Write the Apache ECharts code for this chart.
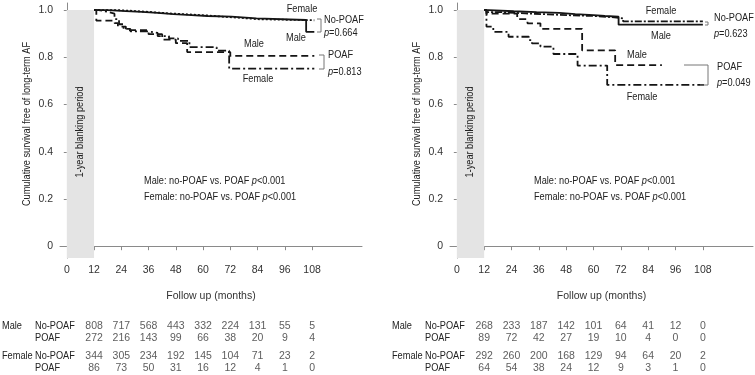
<!DOCTYPE html>
<html>
<head>
<meta charset="utf-8">
<script src="https://cdn.jsdelivr.net/npm/echarts@6/dist/echarts.min.js"></script>
<style>
  html, body { margin: 0; padding: 0; background: #fff; }
  #chart { width: 755px; height: 375px; }
</style>
</head>
<body>
<div id="chart"></div>
<script>
const FONT = '"Liberation Sans", Arial, sans-serif'
const NARROW = 0.8   // the original uses a narrow face; squeeze free text to match
const monthTicks = [0, 12, 24, 36, 48, 60, 72, 84, 96, 108]
const yTicks = [0, 0.2, 0.4, 0.6, 0.8, 1.0]
const riskMonths = [12, 24, 36, 48, 60, 72, 84, 96, 108]

// left panel, [month, survival]
const leftMaleNoPoaf = [[12, 1], [18, 0.996], [26, 0.992], [33, 0.988], [40, 0.983], [47, 0.979], [55, 0.975], [62, 0.972], [72.5, 0.965], [83.5, 0.958], [105.4, 0.908], [109, 0.908]]
const leftFemaleNoPoaf = [[12, 1], [22, 0.996], [30, 0.991], [38, 0.986], [45, 0.982], [53, 0.977], [62, 0.971], [70, 0.966], [78, 0.961], [85, 0.957], [109, 0.957]]
const leftMalePoaf = [[12, 1], [13, 0.955], [21, 0.945], [22.5, 0.93], [26, 0.915], [36, 0.898], [42, 0.875], [48, 0.86], [53, 0.822], [72, 0.806], [109, 0.806]]
const leftFemalePoaf = [[12, 1], [14, 0.993], [18, 0.985], [21, 0.962], [23, 0.94], [25, 0.92], [28, 0.91], [36, 0.903], [40, 0.89], [45, 0.88], [49, 0.87], [54, 0.843], [66, 0.828], [71.5, 0.752], [109, 0.752]]

// right panel
const rightMaleNoPoaf = [[12, 1], [14, 0.995], [25, 0.991], [35, 0.988], [45, 0.983], [52, 0.979], [60, 0.975], [65, 0.972], [71, 0.938], [108, 0.938]]
const rightFemaleNoPoaf = [[12, 1], [13, 0.991], [20, 0.986], [30, 0.982], [40, 0.978], [50, 0.975], [60, 0.97], [68, 0.965], [73, 0.952], [108, 0.952]]
const rightMalePoaf = [[12, 1], [13, 0.985], [26.5, 0.962], [31, 0.944], [36.7, 0.92], [55, 0.829], [69.5, 0.767], [90, 0.767]]
const rightFemalePoaf = [[12, 1], [13, 0.93], [16, 0.908], [22.7, 0.887], [31.6, 0.873], [33, 0.859], [36.7, 0.845], [42.4, 0.814], [53, 0.765], [66, 0.683], [108.5, 0.683]]

// numbers at risk
const leftMaleNoPoafRisk = [808, 717, 568, 443, 332, 224, 131, 55, 5]
const leftMalePoafRisk = [272, 216, 143, 99, 66, 38, 20, 9, 4]
const leftFemaleNoPoafRisk = [344, 305, 234, 192, 145, 104, 71, 23, 2]
const leftFemalePoafRisk = [86, 73, 50, 31, 16, 12, 4, 1, 0]
const rightMaleNoPoafRisk = [268, 233, 187, 142, 101, 64, 41, 12, 0]
const rightMalePoafRisk = [89, 72, 42, 27, 19, 10, 4, 0, 0]
const rightFemaleNoPoafRisk = [292, 260, 200, 168, 129, 94, 64, 20, 2]
const rightFemalePoafRisk = [64, 54, 38, 24, 12, 9, 3, 1, 0]

const tableRowY = [8, 20, 38, 50]   // rows inside the table grid (0..56, top down)

const txt = { fontFamily: FONT, fontSize: 10.5, color: '#333' }
const axisGray = '#8a8a8a'

function plotAxes(i) {
  return {
    x: {
      type: 'value', gridIndex: i, min: -3, max: 130,
      name: 'Follow up (months)', nameLocation: 'middle', nameGap: 33,
      nameTextStyle: txt,
      axisLine: { show: true, lineStyle: { color: axisGray } },
      axisTick: { show: true, length: 4, customValues: monthTicks, lineStyle: { color: axisGray } },
      axisLabel: { ...txt, margin: 7, customValues: monthTicks },
      splitLine: { show: false }
    },
    y: {
      type: 'value', gridIndex: i, min: -0.05, max: 1.03,
      axisLine: { show: true, lineStyle: { color: axisGray } },
      axisTick: { show: true, length: 3, customValues: yTicks, lineStyle: { color: axisGray } },
      axisLabel: { ...txt, margin: 7, customValues: yTicks, formatter: v => v === 0 ? '0' : v.toFixed(1) },
      splitLine: { show: false }
    }
  }
}

function tableAxes(i) {
  return {
    x: { type: 'value', gridIndex: i, min: -3, max: 130, show: false },
    y: { type: 'value', gridIndex: i, min: 0, max: 56, inverse: true, show: false }
  }
}

function curve(idx, data, dash) {
  return {
    type: 'line', xAxisIndex: idx, yAxisIndex: idx, data, step: 'end',
    symbol: 'none', silent: true, animation: false, z: 3,
    lineStyle: { color: '#151515', width: 1.8, type: dash }
  }
}

function band(idx) {
  return {
    type: 'line', xAxisIndex: idx, yAxisIndex: idx, data: [], silent: true, z: 1,
    markArea: {
      silent: true, itemStyle: { color: '#e4e4e4' },
      data: [[{ coord: [0, -0.05] }, { coord: [12, 1] }]]
    }
  }
}

function riskTable(idx, rows) {
  const data = []
  rows.forEach((row, r) => row.forEach((v, c) => data.push([riskMonths[c], tableRowY[r], v])))
  return {
    type: 'scatter', xAxisIndex: idx, yAxisIndex: idx, data, symbolSize: 0,
    silent: true, animation: false,
    label: { show: true, position: 'inside', formatter: p => p.value[2], ...txt }
  }
}

const L = plotAxes(0), R = plotAxes(1), LT = tableAxes(2), RT = tableAxes(3)

function label(x, y, text, align, rotation) {
  return {
    type: 'text', x, y, z: 100, silent: true, scaleX: NARROW, rotation: rotation || 0,
    style: {
      text, fill: '#222', font: '11.5px ' + FONT, align: align || 'left', verticalAlign: 'middle',
      rich: { i: { fontStyle: 'italic', fontFamily: FONT, fontSize: 11.5, fill: '#222' } }
    }
  }
}

function bracket(points) {
  return {
    type: 'polyline', silent: true, z: 100,
    shape: { points },
    style: { stroke: '#777', lineWidth: 1, fill: null }
  }
}

function panelGraphics(dx, notes) {
  return [
    label(27 + dx, 124, 'Cumulative survival free of long-term AF', 'center', Math.PI / 2),
    label(80 + dx, 132, '1-year blanking period', 'center', Math.PI / 2),
    label(144 + dx, 181, 'Male: no-POAF vs. POAF {i|p}<0.001'),
    label(144 + dx, 197, 'Female: no-POAF vs. POAF {i|p}<0.001'),
    label(2 + dx, 326, 'Male'),
    label(35 + dx, 326, 'No-POAF'),
    label(35 + dx, 338, 'POAF'),
    label(2 + dx, 356, 'Female'),
    label(35 + dx, 356, 'No-POAF'),
    label(35 + dx, 368, 'POAF')
  ].concat(notes)
}

const leftNotes = [
  label(302, 9, 'Female', 'center'),
  label(296, 38, 'Male', 'center'),
  label(324, 20, 'No-POAF'),
  label(324, 33, '{i|p}=0.664'),
  bracket([[317, 19], [321, 19], [321, 32], [317, 32]]),
  label(254, 44, 'Male', 'center'),
  label(258, 79, 'Female', 'center'),
  label(328, 55, 'POAF'),
  label(328, 72, '{i|p}=0.813'),
  bracket([[319, 55], [324, 55], [324, 69], [319, 69]])
]

const rightNotes = [
  label(661, 11, 'Female', 'center'),
  label(661, 36, 'Male', 'center'),
  label(714, 18, 'No-POAF'),
  label(714, 34, '{i|p}=0.623'),
  bracket([[705, 22], [708, 22], [708, 25], [705, 25]]),
  label(637, 55, 'Male', 'center'),
  label(642, 97, 'Female', 'center'),
  label(717, 67, 'POAF'),
  label(717, 83, '{i|p}=0.049'),
  bracket([[684, 65], [708, 65], [708, 85], [700, 85]])
]

const chart = echarts.init(document.getElementById('chart'), null, { renderer: 'canvas' })
chart.setOption({
  animation: false,
  backgroundColor: '#fff',
  grid: [
    { left: 60, top: 3, width: 302, height: 255 },
    { left: 450, top: 3, width: 303, height: 255 },
    { left: 60, top: 318, width: 302, height: 56 },
    { left: 450, top: 318, width: 303, height: 56 }
  ],
  xAxis: [L.x, R.x, LT.x, RT.x],
  yAxis: [L.y, R.y, LT.y, RT.y],
  series: [
    band(0),
    curve(0, leftFemaleNoPoaf, [2, 2]),
    curve(0, leftMaleNoPoaf, 'solid'),
    curve(0, leftMalePoaf, [7, 4]),
    curve(0, leftFemalePoaf, [8, 3, 2, 3]),
    band(1),
    curve(1, rightFemaleNoPoaf, [7, 2, 2, 2]),
    curve(1, rightMaleNoPoaf, 'solid'),
    curve(1, rightMalePoaf, [7, 4]),
    curve(1, rightFemalePoaf, [8, 3, 2, 3]),
    riskTable(2, [leftMaleNoPoafRisk, leftMalePoafRisk, leftFemaleNoPoafRisk, leftFemalePoafRisk]),
    riskTable(3, [rightMaleNoPoafRisk, rightMalePoafRisk, rightFemaleNoPoafRisk, rightFemalePoafRisk])
  ],
  graphic: panelGraphics(0, leftNotes).concat(panelGraphics(390, rightNotes))
})
window.addEventListener('resize', () => chart.resize())
</script>
</body>
</html>
